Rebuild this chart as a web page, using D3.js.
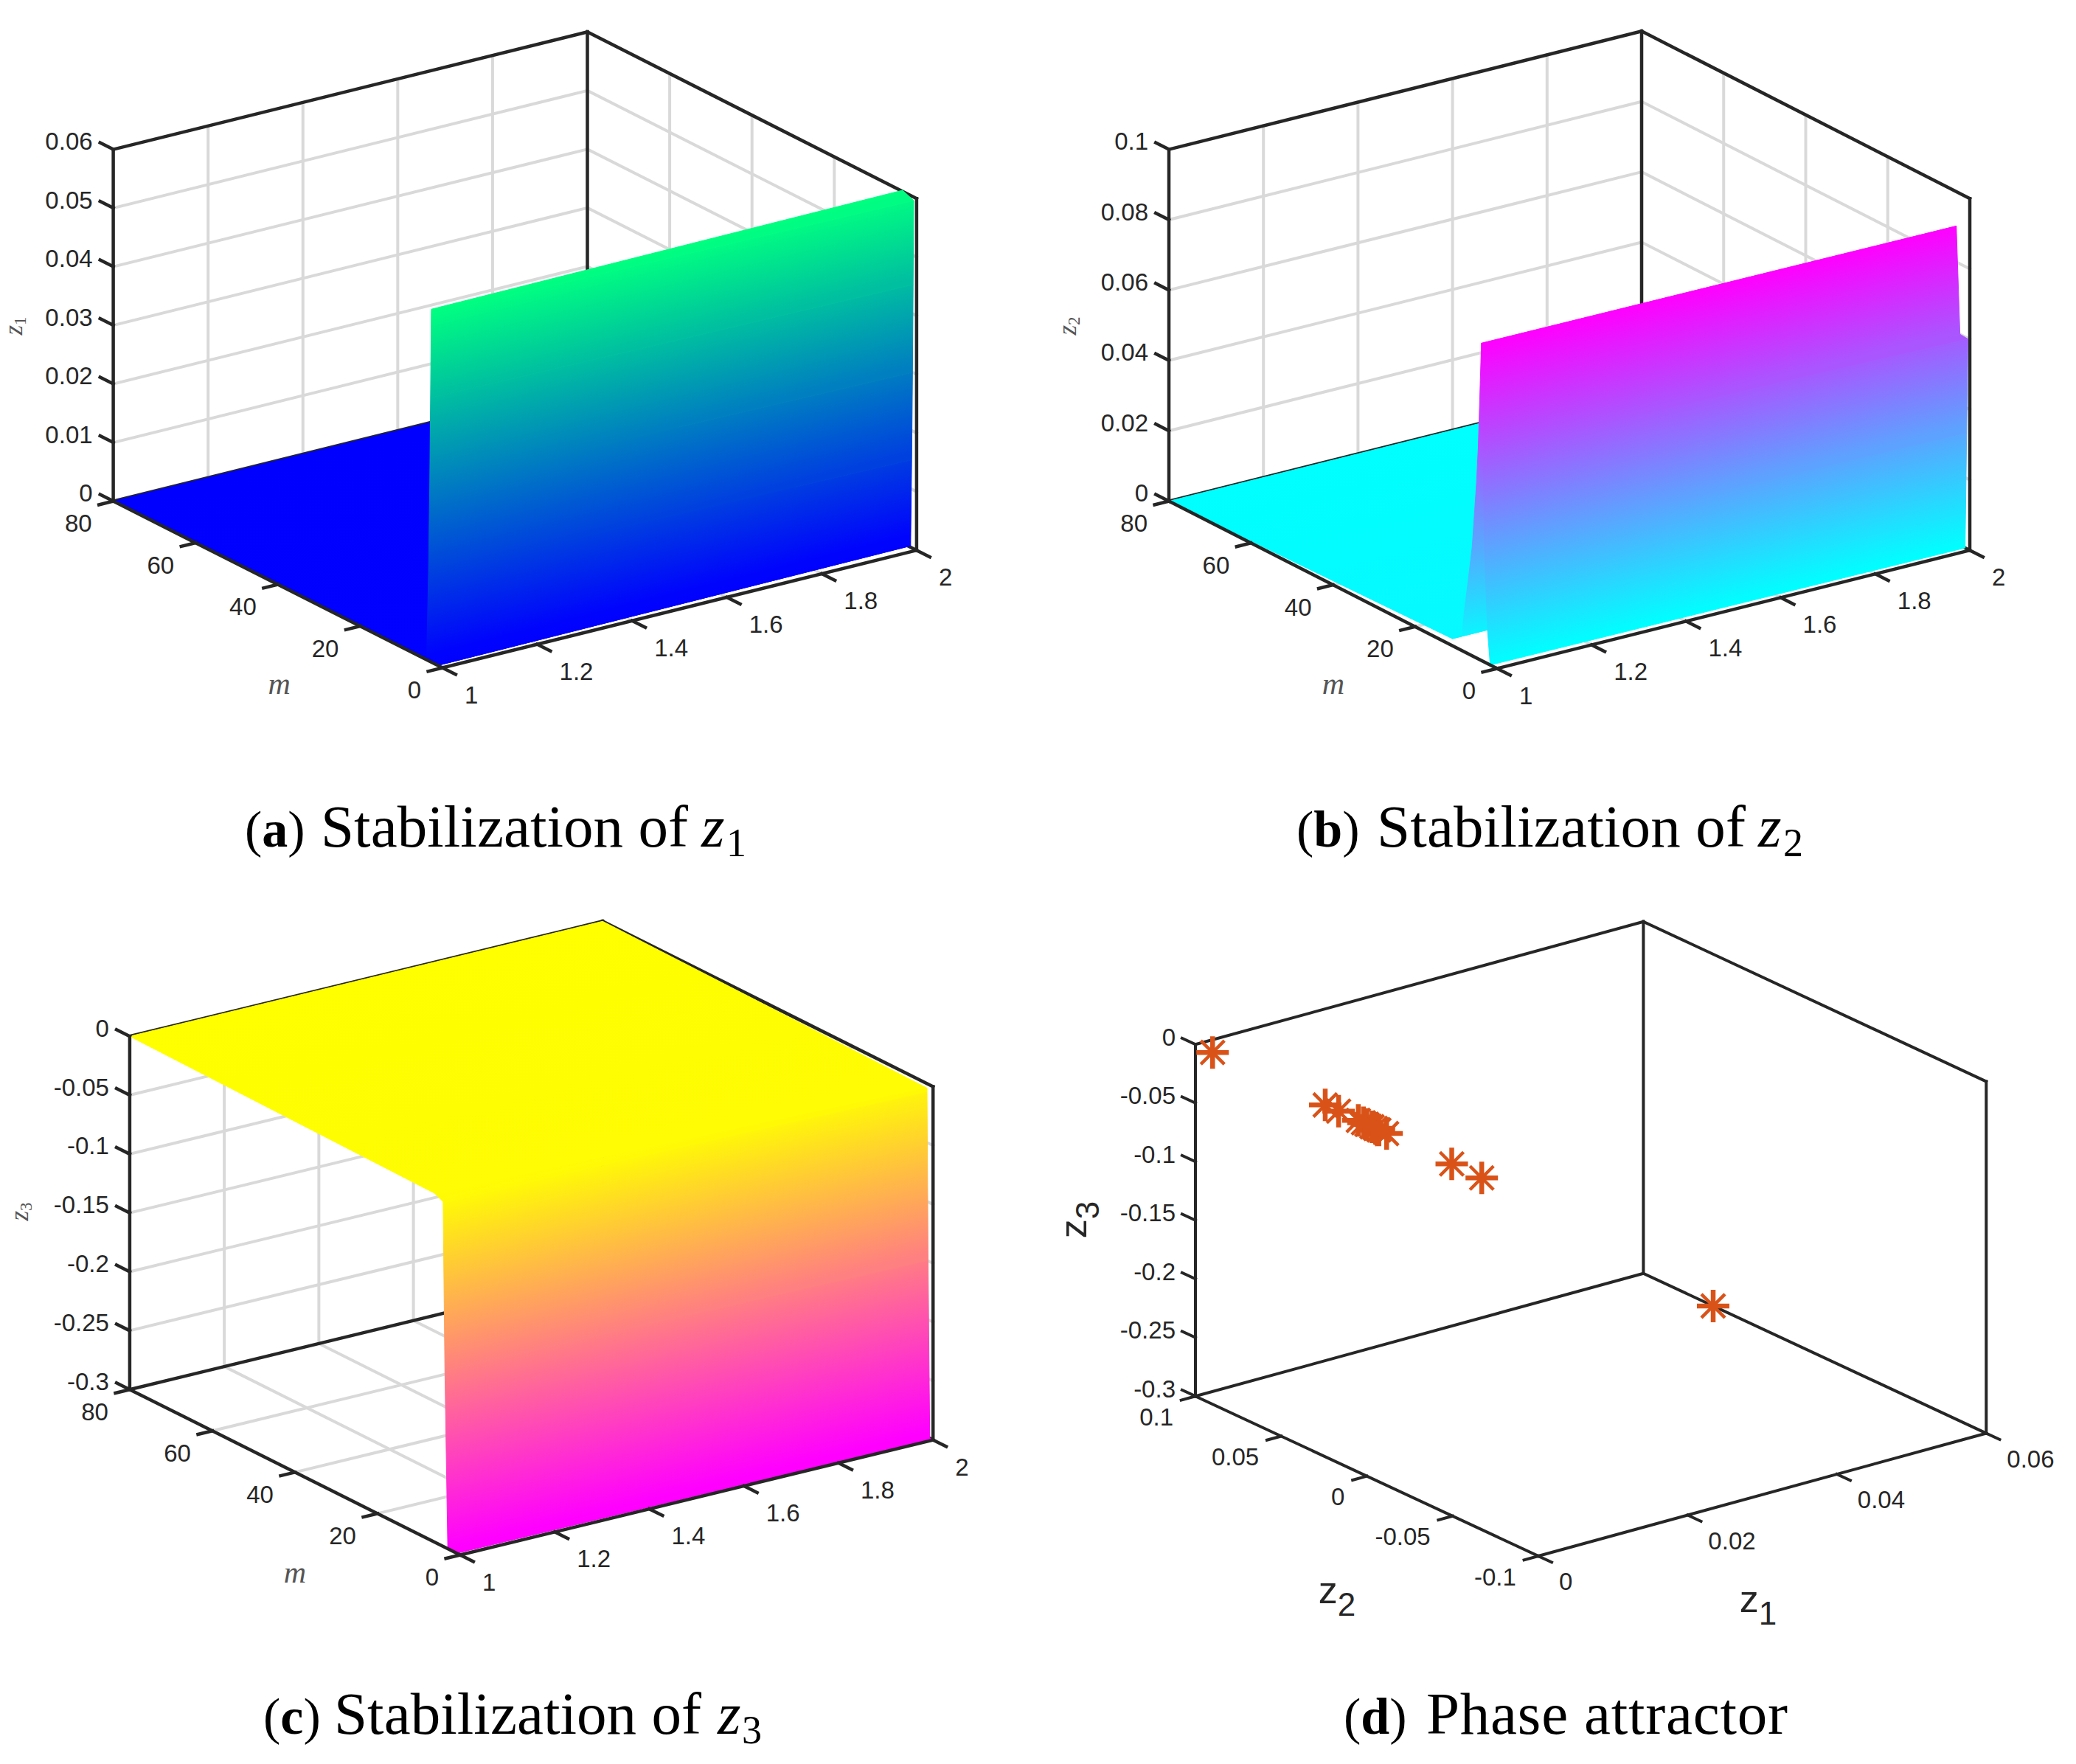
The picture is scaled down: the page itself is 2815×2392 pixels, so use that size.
<!DOCTYPE html>
<html>
<head>
<meta charset="utf-8">
<script src="https://cdn.jsdelivr.net/npm/d3@7"></script>
<style>
    html, body { margin: 0; padding: 0; background: #fff; }
    svg { display: block; }
    .tick { font-family: "Liberation Sans", Arial, sans-serif; font-size: 33px; fill: #262626; }
    .mathLabel { font-family: "Liberation Serif", serif; font-style: italic; fill: #555; }
    .sansLabel { font-family: "Liberation Sans", Arial, sans-serif; fill: #262626; }
    .caption { font-family: "Liberation Serif", serif; font-size: 81px; fill: #000; }
</style>
</head>
<body>
<svg id="chart" width="2815" height="2392"></svg>
<script>
const AXIS_COLOR = "#262626"
const GRID_COLOR = "#d9d9d9"
const STAR_COLOR = "#D95319"

// tick values
const X_TICKS = [1, 1.2, 1.4, 1.6, 1.8, 2]
const M_TICKS = [0, 20, 40, 60, 80]
const Z1_TICKS = [0, 0.01, 0.02, 0.03, 0.04, 0.05, 0.06]
const Z2_TICKS = [0, 0.02, 0.04, 0.06, 0.08, 0.1]
const Z3_TICKS = [-0.3, -0.25, -0.2, -0.15, -0.1, -0.05, 0]
const PHASE_Z1_TICKS = [0, 0.02, 0.04, 0.06]
const PHASE_Z2_TICKS = [-0.1, -0.05, 0, 0.05, 0.1]

// surface rows, far side first. mL is m at x=1, mR is m at x=2
const A_ML = [80, 0.65, 3.83, 3.4, 3.1, 2.9, 2.72, 2.7]
const A_MR = [80, 1.45, 1.45, 1.2, 1.0, 0.85, 0.7, 3.4]
const A_Z = [0, 0.00025, 0.0009, 0.015, 0.03, 0.045, 0.0594, 0.0602]

const B_ML = [80, 10.9, 8.5, 8.0, 7.0, 6.06, 5.0, 4.59, 4.1, 3.81, 3.43, 3.43, 3.1, 2.36, 1.67]
const B_MR = [80, 10.9, 8.5, 8.0, 7.0, 6.06, 5.0, 4.59, 4.1, 3.3, 2.4, 0.45, 0.77, 1.03, 1.15]
const B_Z = [0, 0.002, 0.0044, 0.0113, 0.0212, 0.031, 0.05, 0.06, 0.079, 0.0902, 0.06, 0.0598, 0.0328, 0.0099, 0]

const C_ML = [80, 6.2, 4.13, 3.7, 3.0, 0.8]
const C_MR = [80, 1.46, 1.46, 1.2, 0.8, 0.35]
const C_Z = [0, -0.0037, -0.0073, -0.15, -0.3, -0.3]

// phase attractor points
const PHASE_Z1 = [0.06, 0, 0, 0, 0, 0, 0, 0, 0, 0, 0, 0, 0]
const PHASE_Z2 = [0.0593, 0.09, 0.0243, 0.0165, 0.005, 0.002, 0, -0.003, -0.005, -0.007, -0.0115, -0.0495, -0.067]
const PHASE_Z3 = [-0.3, 0, 0, 0, 0, 0, 0, 0, 0, 0, 0, 0, 0]

const svg = d3.select("#chart")
const defs = svg.append("defs")
var gradientCount = 0

function makeProjection(box, xDomain, mDomain, zDomain) {
    const sx = d3.scaleLinear().domain(xDomain).range([0, 1])
    const sm = d3.scaleLinear().domain(mDomain).range([0, 1])
    const sz = d3.scaleLinear().domain(zDomain).range([0, 1])
    const ex = [box.right[0] - box.front[0], box.right[1] - box.front[1]]
    const em = [box.left[0] - box.front[0], box.left[1] - box.front[1]]
    const project = (x, m, z) => [
        box.front[0] + sx(x) * ex[0] + sm(m) * em[0],
        box.front[1] + sx(x) * ex[1] + sm(m) * em[1] - sz(z) * box.height
    ]
    project.ex = ex
    project.em = em
    return project
}

function line(g, p, q, color, width) {
    g.append("line")
        .attr("x1", p[0]).attr("y1", p[1])
        .attr("x2", q[0]).attr("y2", q[1])
        .attr("stroke", color)
        .attr("stroke-width", width)
        .attr("stroke-linecap", "square")
}

function drawGrid(g, project, xTicks, mTicks, zTicks, xd, md, zd) {
    const w = 4
    for (const x of xTicks) {
        if (x === xd[0] || x === xd[1]) continue
        line(g, project(x, md[1], zd[0]), project(x, md[1], zd[1]), GRID_COLOR, w)
        line(g, project(x, md[0], zd[0]), project(x, md[1], zd[0]), GRID_COLOR, w)
    }
    for (const m of mTicks) {
        if (m === md[0] || m === md[1]) continue
        line(g, project(xd[1], m, zd[0]), project(xd[1], m, zd[1]), GRID_COLOR, w)
        line(g, project(xd[0], m, zd[0]), project(xd[1], m, zd[0]), GRID_COLOR, w)
    }
    for (const z of zTicks) {
        if (z === zd[0] || z === zd[1]) continue
        line(g, project(xd[0], md[1], z), project(xd[1], md[1], z), GRID_COLOR, w)
        line(g, project(xd[1], md[1], z), project(xd[1], md[0], z), GRID_COLOR, w)
    }
}

function drawBackBox(g, project, xd, md, zd, w) {
    line(g, project(xd[0], md[1], zd[1]), project(xd[1], md[1], zd[1]), AXIS_COLOR, w)
    line(g, project(xd[1], md[1], zd[1]), project(xd[1], md[0], zd[1]), AXIS_COLOR, w)
    line(g, project(xd[1], md[1], zd[0]), project(xd[1], md[1], zd[1]), AXIS_COLOR, w)
    line(g, project(xd[1], md[0], zd[0]), project(xd[1], md[0], zd[1]), AXIS_COLOR, w)
    line(g, project(xd[0], md[1], zd[0]), project(xd[0], md[1], zd[1]), AXIS_COLOR, w)
    line(g, project(xd[0], md[1], zd[0]), project(xd[1], md[1], zd[0]), AXIS_COLOR, w)
    line(g, project(xd[1], md[1], zd[0]), project(xd[1], md[0], zd[0]), AXIS_COLOR, w)
}

// one quad per pair of rows, painted far to near, coloured by z along a gradient
function drawSurface(g, project, mL, mR, zs, colorScale, xd) {
    const len = Math.hypot(project.ex[0], project.ex[1])
    const normal = [-project.ex[1] / len, project.ex[0] / len]
    for (let i = 0; i < zs.length - 1; i++) {
        const a = project(xd[0], mL[i], zs[i])
        const b = project(xd[1], mR[i], zs[i])
        const c = project(xd[1], mR[i + 1], zs[i + 1])
        const d = project(xd[0], mL[i + 1], zs[i + 1])
        const dot = (d[0] - a[0]) * normal[0] + (d[1] - a[1]) * normal[1]
        var fill = colorScale(zs[i + 1])
        if (Math.abs(dot) > 0.5 && zs[i] !== zs[i + 1]) {
            const id = "surfaceGradient" + (gradientCount++)
            const gradient = defs.append("linearGradient")
                .attr("id", id)
                .attr("gradientUnits", "userSpaceOnUse")
                .attr("x1", a[0]).attr("y1", a[1])
                .attr("x2", a[0] + normal[0] * dot).attr("y2", a[1] + normal[1] * dot)
            gradient.append("stop").attr("offset", 0).attr("stop-color", colorScale(zs[i]))
            gradient.append("stop").attr("offset", 1).attr("stop-color", colorScale(zs[i + 1]))
            fill = "url(#" + id + ")"
        }
        g.append("path")
            .attr("d", d3.line()([a, b, c, d]) + "Z")
            .attr("fill", fill)
            .attr("stroke", fill)
            .attr("stroke-width", 1)
    }
}

function drawFrontAxes(g, project, xTicks, mTicks, zTicks, xd, md, zd, offsets, w) {
    const tickLen = 20
    const exLen = Math.hypot(project.ex[0], project.ex[1])
    const emLen = Math.hypot(project.em[0], project.em[1])
    const ux = [project.ex[0] / exLen, project.ex[1] / exLen]
    const um = [project.em[0] / emLen, project.em[1] / emLen]

    line(g, project(xd[0], md[0], zd[0]), project(xd[1], md[0], zd[0]), AXIS_COLOR, w)
    line(g, project(xd[0], md[0], zd[0]), project(xd[0], md[1], zd[0]), AXIS_COLOR, w)

    for (const x of xTicks) {
        const p = project(x, md[0], zd[0])
        line(g, p, [p[0] - um[0] * tickLen, p[1] - um[1] * tickLen], AXIS_COLOR, w)
        g.append("text").attr("class", "tick")
            .attr("x", p[0] + offsets.x[0]).attr("y", p[1] + offsets.x[1])
            .attr("dy", ".35em").attr("text-anchor", "start")
            .text(x)
    }
    for (const m of mTicks) {
        const p = project(xd[0], m, zd[0])
        line(g, p, [p[0] - ux[0] * tickLen, p[1] - ux[1] * tickLen], AXIS_COLOR, w)
        g.append("text").attr("class", "tick")
            .attr("x", p[0] + offsets.m[0]).attr("y", p[1] + offsets.m[1])
            .attr("dy", ".35em").attr("text-anchor", "end")
            .text(m)
    }
    for (const z of zTicks) {
        const p = project(xd[0], md[1], z)
        line(g, p, [p[0] + um[0] * tickLen, p[1] + um[1] * tickLen], AXIS_COLOR, w)
        g.append("text").attr("class", "tick")
            .attr("x", p[0] + offsets.z[0]).attr("y", p[1] + offsets.z[1])
            .attr("dy", ".35em").attr("text-anchor", "end")
            .text(z)
    }
}

function subLabel(g, cls, x, y, base, sub, size, subSize, shift, rotate) {
    const t = g.append("text").attr("class", cls)
        .attr("text-anchor", "middle")
        .attr("transform", `translate(${x},${y})` + (rotate ? " rotate(-90)" : ""))
        .attr("font-size", size)
    t.append("tspan").text(base)
    t.append("tspan").attr("dy", shift).attr("font-size", subSize).attr("font-style", "normal").text(sub)
}

// caption pieces are placed apart because the fallback serif runs narrower than the original
function caption(y, letter, letterX, rest, restSpan, sub, zX, subX) {
    const head = svg.append("text").attr("class", "caption")
        .attr("x", letterX).attr("y", y)
        .style("font-size", "70px")
    head.append("tspan").text("(")
    head.append("tspan").attr("font-weight", "bold").text(letter)
    head.append("tspan").text(")")
    svg.append("text").attr("class", "caption")
        .attr("x", restSpan[0]).attr("y", y)
        .attr("textLength", restSpan[1] - restSpan[0])
        .attr("lengthAdjust", "spacing")
        .text(rest)
    if (sub) {
        svg.append("text").attr("class", "caption")
            .attr("x", zX).attr("y", y)
            .attr("font-style", "italic").text("z")
        svg.append("text").attr("class", "caption")
            .attr("x", subX).attr("y", y + 13)
            .style("font-size", "54px").text(sub)
    }
}

const SURFACE_OFFSETS = { x: [30, 36.5], m: [-29, 30], z: [-28, -11] }

function surfacePanel(box, zTicks, zDomain, mL, mR, zs, colors, colorDomain, zSub, zPos, mPos) {
    const xd = [1, 2], md = [0, 80]
    const project = makeProjection(box, xd, md, zDomain)
    const g = svg.append("g")
    drawGrid(g, project, X_TICKS, M_TICKS, zTicks, xd, md, zDomain)
    drawBackBox(g, project, xd, md, zDomain, 4.5)
    const colorScale = d3.scaleLinear().domain(colorDomain).range(colors).interpolate(d3.interpolateRgb)
    drawSurface(g, project, mL, mR, zs, colorScale, xd)
    drawFrontAxes(g, project, X_TICKS, M_TICKS, zTicks, xd, md, zDomain, SURFACE_OFFSETS, 4.5)
    subLabel(g, "mathLabel", zPos[0], zPos[1], "z", zSub, 35, 23, 5, true)
    g.append("text").attr("class", "mathLabel")
        .attr("x", mPos[0]).attr("y", mPos[1])
        .attr("dy", ".25em").attr("text-anchor", "middle")
        .attr("font-size", 42).text("m")
}

surfacePanel(
    { front: [600, 905.5], right: [1242.9, 746.2], left: [153.6, 679.6], height: 477 },
    Z1_TICKS, [0, 0.06], A_ML, A_MR, A_Z,
    ["rgb(0,0,255)", "rgb(0,255,128)"], [0, 0.0602],
    "1", [29.5, 442], [378.6, 930]
)
surfacePanel(
    { front: [2030, 906.5], right: [2671, 746.2], left: [1585, 679.6], height: 477 },
    Z2_TICKS, [0, 0.1], B_ML, B_MR, B_Z,
    ["rgb(0,255,255)", "rgb(255,0,255)"], [0, 0.0902],
    "2", [1458.7, 442], [1808, 930]
)
surfacePanel(
    { front: [624, 2108.5], right: [1265.2, 1952.6], left: [175.9, 1884.2], height: 479 },
    Z3_TICKS, [-0.3, 0], C_ML, C_MR, C_Z,
    ["rgb(255,0,255)", "rgb(255,255,0)"], [-0.3, 0],
    "3", [38, 1643], [400, 2135]
)

// phase attractor panel, x axis carries z1 and the depth axis carries z2
function phasePanel() {
    const box = { front: [2085.9, 2110], right: [2693.3, 1943.5], left: [1621, 1893.3], height: 477 }
    const xd = [0, 0.06], md = [-0.1, 0.1], zd = [-0.3, 0]
    const project = makeProjection(box, xd, md, zd)
    const g = svg.append("g")
    drawBackBox(g, project, xd, md, zd, 4)
    drawFrontAxes(g, project, PHASE_Z1_TICKS, PHASE_Z2_TICKS, Z3_TICKS, xd, md, zd,
        { x: [28, 34.5], m: [-30, 28], z: [-27, -10] }, 4)

    const armStraight = 22, armDiagonal = 16
    PHASE_Z1.forEach((z1, i) => {
        const p = project(z1, PHASE_Z2[i], PHASE_Z3[i])
        const cross = d3.path()
        cross.moveTo(p[0] - armStraight, p[1]); cross.lineTo(p[0] + armStraight, p[1])
        cross.moveTo(p[0], p[1] - armStraight); cross.lineTo(p[0], p[1] + armStraight)
        const diagonal = d3.path()
        diagonal.moveTo(p[0] - armDiagonal, p[1] - armDiagonal); diagonal.lineTo(p[0] + armDiagonal, p[1] + armDiagonal)
        diagonal.moveTo(p[0] - armDiagonal, p[1] + armDiagonal); diagonal.lineTo(p[0] + armDiagonal, p[1] - armDiagonal)
        g.append("path").attr("d", cross.toString())
            .attr("fill", "none").attr("stroke", STAR_COLOR).attr("stroke-width", 6.5)
        g.append("path").attr("d", diagonal.toString())
            .attr("fill", "none").attr("stroke", STAR_COLOR).attr("stroke-width", 4.5)
    })

    subLabel(g, "sansLabel", 1473, 1654, "z", "3", 52, 44, 17, true)
    subLabel(g, "sansLabel", 1813, 2174, "z", "2", 52, 44, 17, false)
    subLabel(g, "sansLabel", 2384, 2186, "z", "1", 52, 44, 17, false)
}
phasePanel()

caption(1148, "a", 332, "Stabilization of", [435, 933], "1", 951, 985)
caption(1148, "b", 1758, "Stabilization of", [1867, 2367], "2", 2384, 2418)
caption(2351, "c", 357, "Stabilization of", [453, 951], "3", 973, 1006)
caption(2351, "d", 1822, "Phase attractor", [1934, 2424], null)
</script>
</body>
</html>
